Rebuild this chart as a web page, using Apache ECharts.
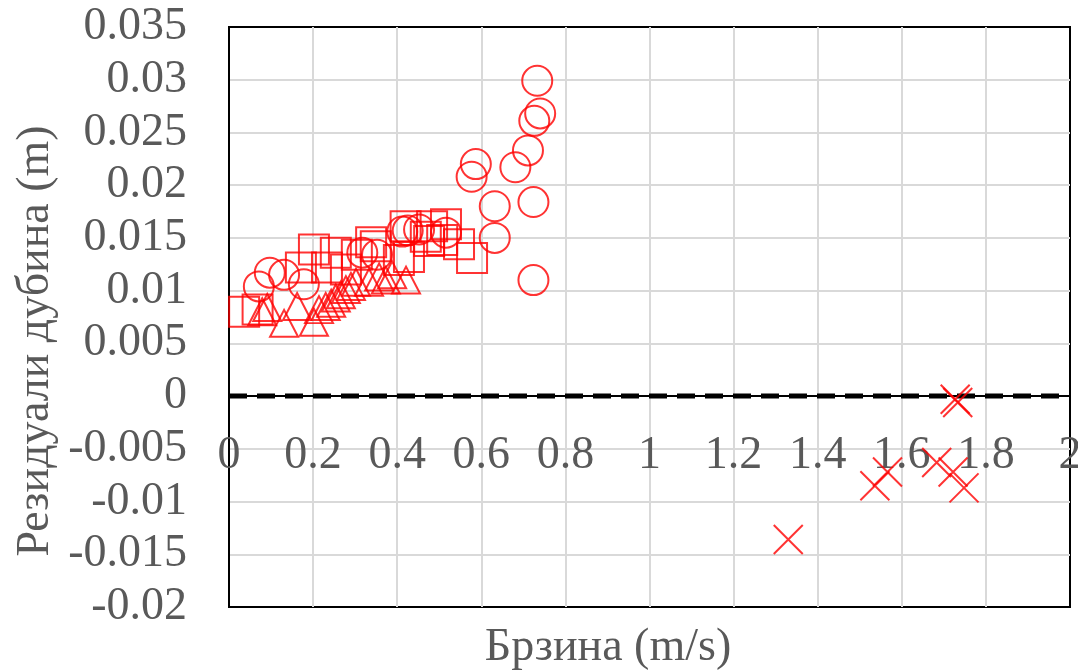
<!DOCTYPE html>
<html>
<head>
<meta charset="utf-8">
<script src="https://cdn.jsdelivr.net/npm/echarts@6/dist/echarts.min.js"></script>
<style>
  html, body { margin: 0; padding: 0; background: #fff; }
  #chart { width: 1078px; height: 672px; }
</style>
</head>
<body>
<div id="chart"></div>
<script>
  // кругови
  var circleX = [0.071, 0.097, 0.131, 0.178, 0.317, 0.352, 0.412, 0.425, 0.452, 0.516, 0.577, 0.587, 0.632, 0.632, 0.681, 0.711, 0.724, 0.724, 0.726, 0.733, 0.740]
  var circleY = [0.0104, 0.0117, 0.0115, 0.0106, 0.0136, 0.0134, 0.0156, 0.0157, 0.0158, 0.0155, 0.0208, 0.0220, 0.0180, 0.0150, 0.0217, 0.0233, 0.0184, 0.0110, 0.0261, 0.0299, 0.0268]
  // квадрати
  var squareX = [0.036, 0.068, 0.171, 0.202, 0.233, 0.254, 0.278, 0.304, 0.338, 0.349, 0.404, 0.420, 0.428, 0.468, 0.476, 0.483, 0.507, 0.516, 0.547, 0.578]
  var squareY = [0.0080, 0.0082, 0.0122, 0.0139, 0.0122, 0.0136, 0.0120, 0.0134, 0.0146, 0.0142, 0.0129, 0.0161, 0.0132, 0.0151, 0.0147, 0.0161, 0.0148, 0.0163, 0.0144, 0.0131]
  // троуглови
  var triangleX = [0.079, 0.091, 0.131, 0.162, 0.202, 0.214, 0.230, 0.243, 0.254, 0.266, 0.278, 0.290, 0.302, 0.333, 0.357, 0.373, 0.388, 0.421]
  var triangleY = [0.0080, 0.0084, 0.0069, 0.0085, 0.0070, 0.0082, 0.0085, 0.0088, 0.0093, 0.0096, 0.0101, 0.0104, 0.0108, 0.0108, 0.0113, 0.0110, 0.0115, 0.0110]
  // крстови
  var crossX = [1.330, 1.536, 1.566, 1.683, 1.722, 1.727, 1.733, 1.748]
  var crossY = [-0.0136, -0.0085, -0.0072, -0.0063, -0.0072, -0.0003, -0.0006, -0.0087]
  // нулта линија
  var zeroX = [0, 2]
  var zeroY = [0, 0]

  function pairs(xs, ys) {
    return xs.map(function (x, i) { return [x, ys[i]] })
  }

  var fontFamily = '"Liberation Serif", serif'
  var textColor = '#595959'
  var hollow = { color: 'rgba(0,0,0,0)', borderColor: '#ff0000', borderWidth: 2 }

  var chart = echarts.init(document.getElementById('chart'))
  chart.setOption({
    animation: false,
    grid: {
      left: 229, right: 8, top: 27, bottom: 65,
      outerBoundsMode: 'none',
      show: true, borderColor: '#000', borderWidth: 2, backgroundColor: '#fff'
    },
    xAxis: {
      type: 'value', min: 0, max: 2, interval: 0.2,
      axisLine: { show: false, onZero: false },
      axisTick: { show: false },
      axisLabel: {
        // ознаке стоје одмах испод нулте линије
        margin: -174, fontSize: 46, fontFamily: fontFamily, color: textColor,
        formatter: function (v) { return String(+v.toFixed(1)) }
      },
      splitLine: { showMinLine: false, showMaxLine: false, lineStyle: { color: '#d9d9d9', width: 2 } }
    },
    yAxis: {
      type: 'value', min: -0.02, max: 0.035, interval: 0.005,
      axisLine: { show: true, onZero: false, lineStyle: { color: '#000', width: 2 } },
      axisTick: { show: false },
      axisLabel: {
        margin: 42, fontSize: 46, fontFamily: fontFamily, color: textColor,
        formatter: function (v) { return String(+v.toFixed(3)) }
      },
      splitLine: { showMinLine: false, showMaxLine: false, lineStyle: { color: '#d9d9d9', width: 2 } }
    },
    graphic: [
      {
        type: 'text', x: 36, y: 341, rotation: Math.PI / 2,
        style: { text: 'Резидуали дубина (m)', font: '46px "Liberation Serif", serif', fill: textColor, align: 'center', verticalAlign: 'middle' }
      },
      {
        type: 'text', x: 608, y: 648,
        style: { text: 'Брзина (m/s)', font: '46px "Liberation Serif", serif', fill: textColor, align: 'center', verticalAlign: 'middle' }
      }
    ],
    series: [
      {
        type: 'line', data: pairs(zeroX, zeroY), symbol: 'none', z: 3,
        lineStyle: { color: '#000', width: 2 }
      },
      {
        type: 'line', data: pairs(zeroX, zeroY), symbol: 'none', z: 3,
        lineStyle: { color: '#000', width: 5, type: [18, 10] }
      },
      { type: 'scatter', data: pairs(squareX, squareY), symbol: 'rect', symbolSize: 30, itemStyle: hollow, z: 4 },
      { type: 'scatter', data: pairs(triangleX, triangleY), symbol: 'triangle', symbolSize: [28, 27], itemStyle: hollow, z: 4 },
      { type: 'scatter', data: pairs(circleX, circleY), symbol: 'circle', symbolSize: 30, itemStyle: hollow, z: 4 },
      {
        type: 'scatter', data: pairs(crossX, crossY), symbol: 'path://M0,0L10,10M10,0L0,10', symbolSize: 29,
        itemStyle: { color: 'none', borderColor: '#ff0000', borderWidth: 2 }, z: 4
      }
    ]
  })
</script>
</body>
</html>
